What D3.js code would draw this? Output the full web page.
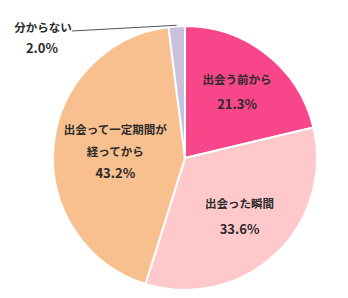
<!DOCTYPE html>
<html>
<head>
<meta charset="utf-8">
<script src="https://cdn.jsdelivr.net/npm/d3@7"></script>
<style>
  body { margin: 0; background: #fff; }
  text { font-family: "Noto Sans CJK JP", "Noto Sans", sans-serif; font-weight: bold; fill: #2b2b2b; }
</style>
</head>
<body>
<svg id="chart" width="348" height="298"></svg>
<script>
var categories = ['出会う前から', '出会った瞬間', '出会って一定期間が経ってから', '分からない'];
var labelLines = [['出会う前から'], ['出会った瞬間'], ['出会って一定期間が', '経ってから'], ['分からない']];
var values = [21.3, 33.6, 43.2, 2.0];
var colors = ['#f7468a', '#ffc9cb', '#f9c08f', '#cbc0dc'];

var svg = d3.select('#chart');
var cx = 185, cy = 158, radius = 132;

var g = svg.append('g').attr('transform', `translate(${cx},${cy})`);

var pie = d3.pie().sort(null).value(d => d.value);
var arcs = pie(values.map((v, i) => ({ name: categories[i], value: v, lines: labelLines[i], color: colors[i] })));

var arc = d3.arc().innerRadius(0).outerRadius(radius);

g.selectAll('path.slice')
    .data(arcs)
    .enter()
    .append('path')
    .attr('class', 'slice')
    .attr('d', arc)
    .attr('fill', d => d.data.color)
    .attr('stroke', '#fff')
    .attr('stroke-width', 2)
    .attr('stroke-linejoin', 'round');

// label distance from center and row spacing, per slice (layout only)
var labelR = [84, 80, 70];
var lineH = [25, 25, 22];

arcs.forEach((d, i) => {
    if (i === 3) return; // small slice labelled outside
    var a = (d.startAngle + d.endAngle) / 2;
    var x = Math.sin(a) * labelR[i], y = -Math.cos(a) * labelR[i];
    var rows = d.data.lines.concat([d.data.value.toFixed(1) + '%']);
    var top = y - (rows.length - 1) * lineH[i] / 2;
    rows.forEach((t, j) => {
        g.append('text')
            .attr('x', x)
            .attr('y', top + j * lineH[i])
            .attr('dy', '0.35em')
            .attr('text-anchor', 'middle')
            .style('font-size', j === rows.length - 1 ? '13px' : '11.5px')
            .text(t);
    });
});

// outside label with leader line
var small = arcs[3];
var sa = (small.startAngle + small.endAngle) / 2;
var px = Math.sin(sa) * (radius + 1), py = -Math.cos(sa) * (radius + 1);
var lx = 72 - cx, ly = 31 - cy;
g.append('line')
    .attr('x1', px).attr('y1', py)
    .attr('x2', lx).attr('y2', ly)
    .attr('stroke', '#555')
    .attr('stroke-width', 1);
g.append('text')
    .attr('x', 43 - cx).attr('y', 28 - cy)
    .attr('dy', '0.35em')
    .attr('text-anchor', 'middle')
    .style('font-size', '11.5px')
    .text(small.data.lines[0]);
g.append('text')
    .attr('x', 42 - cx).attr('y', 48 - cy)
    .attr('dy', '0.35em')
    .attr('text-anchor', 'middle')
    .style('font-size', '13px')
    .text(small.data.value.toFixed(1) + '%');
</script>
</body>
</html>
